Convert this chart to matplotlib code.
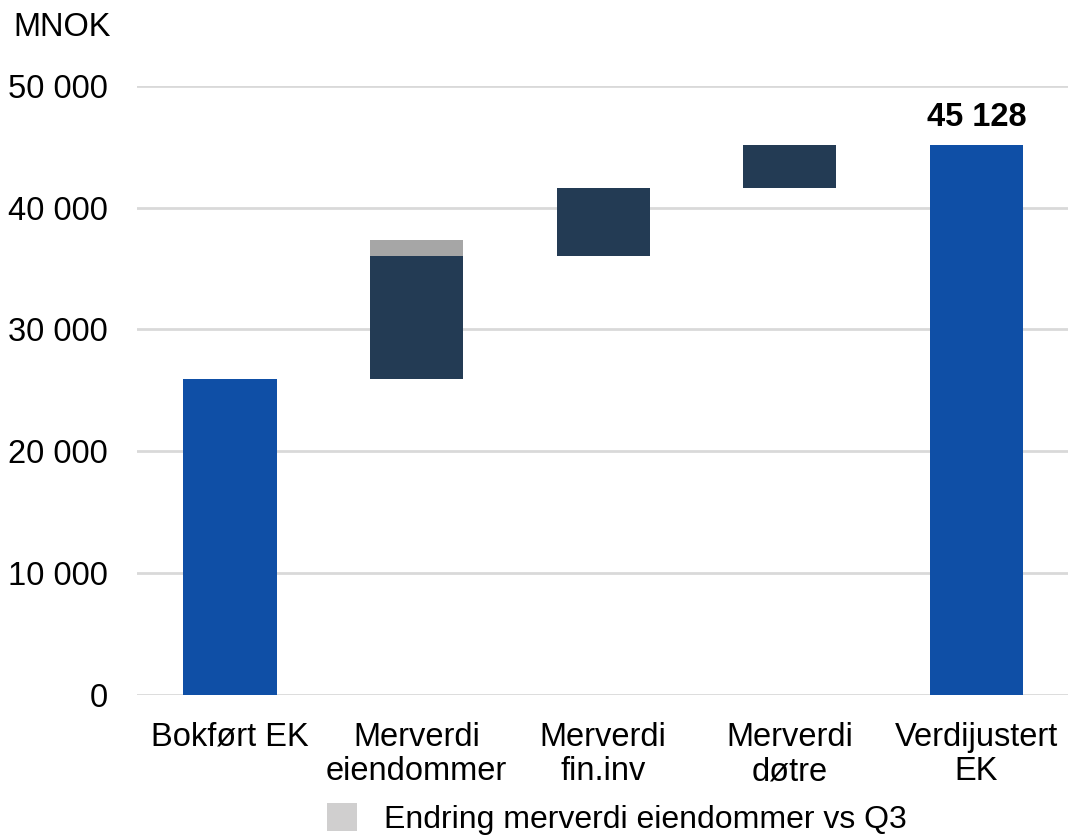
import matplotlib
matplotlib.use("Agg")
import matplotlib.pyplot as plt
from matplotlib.patches import Patch

plt.rcParams["font.family"] = ["Liberation Sans", "DejaVu Sans"]

# Waterfall data (MNOK)
categories = ["Bokført EK", "Merverdi\neiendommer", "Merverdi\nfin.inv",
              "Merverdi\ndøtre", "Verdijustert\nEK"]
bokfort_ek = 25940
merverdi_eiendommer = 10090
endring_vs_q3 = 1310
merverdi_fin_inv = 5570
merverdi_dotre = 3528
verdijustert_ek = 45128
legend_label = "Endring merverdi eiendommer vs Q3"

blue = "#0F4FA6"
navy = "#233B54"
grey_bar = "#A6A6A6"
grey_legend = "#D0CFCF"
grid_col = "#D9D9D9"

fig = plt.figure(figsize=(10.68, 8.36), dpi=100)
ax = fig.add_axes([136.7 / 1068, (836 - 695.3) / 836,
                   (1069.7 - 136.7) / 1068, (695.3 - 85.6) / 836])

x = list(range(len(categories)))
w = 0.5
fs = 23.5

# totals
ax.bar(x[0], bokfort_ek, width=w, color=blue, zorder=3)
ax.bar(x[4], verdijustert_ek, width=w, color=blue, zorder=3)

# increments stacked on the running total
base = bokfort_ek
ax.bar(x[1], merverdi_eiendommer, bottom=base, width=w, color=navy, zorder=3)
ax.bar(x[1], endring_vs_q3, bottom=base + merverdi_eiendommer, width=w,
       color=grey_bar, zorder=3)
base += merverdi_eiendommer
ax.bar(x[2], merverdi_fin_inv, bottom=base, width=w, color=navy, zorder=3)
base += merverdi_fin_inv
ax.bar(x[3], merverdi_dotre, bottom=base, width=w, color=navy, zorder=3)

ax.text(x[4], verdijustert_ek + 950, f"{verdijustert_ek:,}".replace(",", " "),
        ha="center", va="bottom", fontsize=fs, fontweight="bold")

ax.set_xlim(-0.5, 4.5)
ax.set_ylim(0, 50000)
yt = list(range(0, 50001, 10000))
ax.set_yticks(yt)
ax.set_yticklabels([f"{v:,}".replace(",", " ") for v in yt], fontsize=fs)
ax.set_xticks(x)
ax.set_xticklabels(categories, fontsize=fs, linespacing=1.15)
ax.tick_params(axis="y", length=0, pad=20.5)
ax.tick_params(axis="x", length=0, pad=19)
ax.grid(axis="y", color=grid_col, linewidth=2, zorder=0)
ax.set_axisbelow(True)
for s in ax.spines.values():
    s.set_visible(False)

fig.text(13 / 1068, 1 - 27 / 836, "MNOK", fontsize=fs, va="center", ha="left")

handle = Patch(facecolor=grey_legend, edgecolor="none")
fig.legend([handle], [legend_label], loc="center",
           bbox_to_anchor=(617 / 1068, 1 - 819 / 836),
           frameon=False, fontsize=23, handlelength=0.95, handleheight=0.95,
           handletextpad=0.85, borderpad=0)

fig.savefig("out.png", dpi=100)
